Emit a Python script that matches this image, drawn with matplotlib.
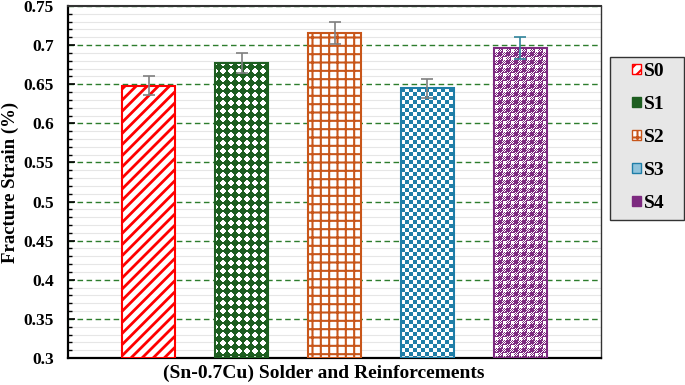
import numpy as np
import matplotlib
matplotlib.use("Agg")
import matplotlib.pyplot as plt
from matplotlib.patches import Patch, Rectangle
from matplotlib import colors as mcolors

samples = ["S0", "S1", "S2", "S3", "S4"]
strain = [0.648, 0.677, 0.716, 0.645, 0.696]
err = [0.012, 0.013, 0.014, 0.012, 0.014]
bar_colors = ["#ff0000", "#1d5e20", "#c8561a", "#1f7ea8", "#7d2a80"]
err_colors = ["#7f7f7f", "#7f7f7f", "#7f7f7f", "#7f7f7f", "#31849b"]

plt.rcParams["font.family"] = ["Liberation Serif", "DejaVu Serif"]
plt.rcParams["font.weight"] = "bold"

fig = plt.figure(figsize=(6.85, 3.85), dpi=100)
ax = fig.add_axes([68 / 685, 27 / 385, 533 / 685, 352 / 385])

x = np.arange(len(samples))
w = 0.57
ax.set_xlim(-0.87, 4.87)
ax.set_ylim(0.3, 0.75)


def tile(kind, color):
    c = np.array(mcolors.to_rgb(color))
    wht = np.ones(3)
    t = np.zeros((8, 8, 3))
    for i in range(8):
        for j in range(8):
            if kind == "dots":
                d = (i - 3.5) ** 2 + (j - 3.5) ** 2
                on = d <= 11 or abs(i - 3.5) + abs(j - 3.5) <= 4
            elif kind == "checker":
                on = (i // 4 + j // 4) % 2 == 0
            else:  # gingham
                a, b = i < 4, j < 4
                if a and b:
                    on = not (1 <= i <= 3 and 1 <= j <= 3)
                elif not a and not b:
                    on = True
                else:
                    on = (i + j) % 2 == 0
            t[i, j] = c if on else wht
    return t


patterns = {1: "dots", 3: "checker", 4: "gingham"}
hatches = {0: ("///", 2.0), 2: ("++", 1.5)}

fig.canvas.draw()
for k in range(len(samples)):
    x0, x1 = x[k] - w / 2, x[k] + w / 2
    if k in patterns:
        p0 = ax.transData.transform((x0, 0.3))
        p1 = ax.transData.transform((x1, strain[k]))
        nx = int(round(p1[0] - p0[0]))
        ny = int(round(p1[1] - p0[1]))
        t = tile(patterns[k], bar_colors[k])
        img = np.tile(t, (ny // 8 + 1, nx // 8 + 1, 1))[:ny, :nx]
        ax.imshow(img, extent=(x0, x1, 0.3, strain[k]), aspect="auto",
                  interpolation="nearest", origin="upper", zorder=2)
        ax.bar(x[k], strain[k] - 0.3, w, bottom=0.3, facecolor="none",
               edgecolor=bar_colors[k], linewidth=1.5, zorder=3)
    else:
        plt.rcParams["hatch.linewidth"] = hatches[k][1]
        ax.bar(x[k], strain[k] - 0.3, w, bottom=0.3, facecolor="white",
               edgecolor=bar_colors[k], hatch=hatches[k][0], linewidth=1.5,
               zorder=3)
    ax.errorbar(x[k], strain[k], yerr=err[k], color=err_colors[k],
                capsize=4, elinewidth=1.2, capthick=1.2, zorder=4)

ax.set_xlim(-0.87, 4.87)
ax.set_ylim(0.3, 0.75)

ax.set_yticks(np.arange(0.3, 0.751, 0.05))
ax.set_yticklabels(["0.3", "0.35", "0.4", "0.45", "0.5", "0.55", "0.6",
                    "0.65", "0.7", "0.75"])
ax.set_yticks(np.arange(0.3, 0.751, 0.01), minor=True)
ax.set_xticks([])
ax.tick_params(axis="y", which="major", direction="in", length=5, width=1.2,
               pad=10, labelsize=12.5)
ax.tick_params(axis="y", which="minor", direction="in", length=3, width=1)
for lbl in ax.get_yticklabels():
    lbl.set_fontweight("bold")

ax.grid(which="minor", axis="y", color="#e6e6e6", linewidth=0.8, zorder=0)
ax.grid(which="major", axis="y", color="#2d7d2d", linestyle=(0, (4, 2.5)),
        linewidth=1.0, zorder=1)
ax.set_axisbelow(True)

for s in ["left", "bottom"]:
    ax.spines[s].set_linewidth(1.6)
    ax.spines[s].set_color("black")
ax.spines["top"].set_linewidth(1.5)
ax.spines["top"].set_color("#333333")
ax.spines["right"].set_linewidth(1.0)
ax.spines["right"].set_color("#333333")

ax.set_ylabel("Fracture Strain (%)", fontsize=13.5, fontweight="bold")
ax.yaxis.set_label_coords(19 / 685, 1 - 182 / 385, transform=fig.transFigure)
ax.set_xlabel("(Sn-0.7Cu) Solder and Reinforcements", fontsize=14,
              fontweight="bold", labelpad=5)
ax.xaxis.label.set_position((0.48, 0))

# legend frame drawn in figure space, entries placed inside it
fig.patches.append(Rectangle((610 / 685, 1 - 220 / 385), 74 / 685, 163 / 385,
                             transform=fig.transFigure, facecolor="#e7e7e7",
                             edgecolor="#333333", linewidth=1.0, zorder=0))

handles = [
    Patch(facecolor="white", edgecolor=bar_colors[0], hatch="///"),
    Patch(facecolor=bar_colors[1], edgecolor=bar_colors[1]),
    Patch(facecolor="white", edgecolor=bar_colors[2], hatch="++"),
    Patch(facecolor="#8fc3db", edgecolor=bar_colors[3]),
    Patch(facecolor=bar_colors[4], edgecolor=bar_colors[4]),
]
leg = fig.legend(handles, samples, loc="upper left",
                 bbox_to_anchor=(632 / 685, 1 - 63 / 385), borderaxespad=0,
                 prop={"family": "Liberation Serif", "weight": "bold", "size": 14},
                 handlelength=0.45, handleheight=0.45, handletextpad=0.15,
                 labelspacing=0.82, borderpad=0, frameon=False)

fig.savefig("out.png", dpi=100)
